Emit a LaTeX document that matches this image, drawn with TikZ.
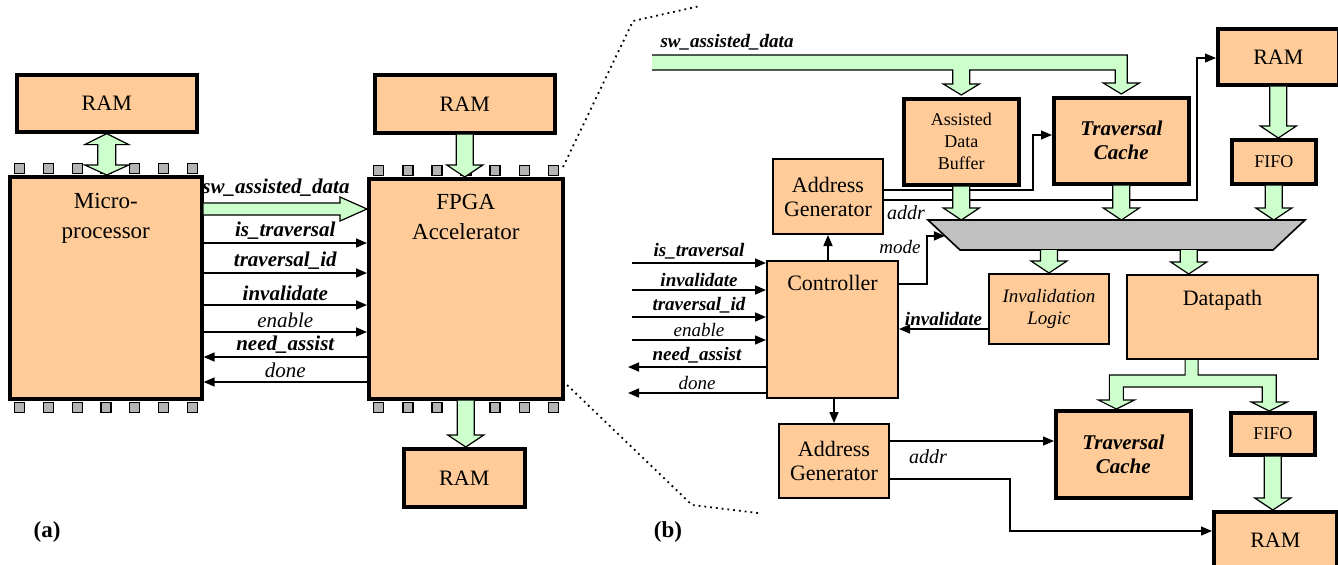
\documentclass[tikz,border=0pt]{standalone}
\usepackage{fontspec}
\setmainfont{Liberation Serif}
\usetikzlibrary{arrows.meta, calc, positioning}

\definecolor{peach}{HTML}{FFCC99}
\definecolor{mint}{HTML}{CCFFCC}
\definecolor{pingray}{HTML}{B4B4B4}
\definecolor{muxgray}{HTML}{C0C0C0}

% fat green arrow pointing down, from #1 to #2
\newcommand{\fatdown}[2]{%
  \draw[fat] let \p1=(#1), \p2=(#2) in
    (\x1-4.25pt,\y1) -- (\x1-4.25pt,\y2+6pt) -- (\x1-9pt,\y2+6pt) -- (\x1,\y2)
    -- (\x1+9pt,\y2+6pt) -- (\x1+4.25pt,\y2+6pt) -- (\x1+4.25pt,\y1);}

\begin{document}
\begin{tikzpicture}[
    x=0.5pt, y=-0.5pt,
    box/.style = {draw, fill=peach, line width=1pt, inner sep=1pt, align=center,
                  anchor=north west, font=\rmfamily\fontsize{11}{12}\selectfont},
    thickbox/.style = {box, line width=1.8pt},
    toptext/.style = {anchor=north, inner sep=0pt, align=center, font=\rmfamily\fontsize{11.5}{15}\selectfont},
    pin/.style = {draw, fill=pingray, line width=0.6pt, minimum size=5pt, inner sep=0pt},
    fat/.style = {draw, fill=mint, line width=0.6pt},
    sig/.style = {line width=0.8pt, -{Triangle[length=5.5pt, width=4.5pt]}},
    thin/.style = {line width=0.6pt, -{Triangle[length=5.5pt, width=4.5pt]}},
    lblA/.style = {font=\rmfamily\fontsize{10.5}{12}\selectfont\itshape, inner sep=1.5pt},
    lblB/.style = {font=\rmfamily\fontsize{9.5}{11}\selectfont\itshape, inner sep=1.5pt}
  ]
  \useasboundingbox (0,0) rectangle (1338,564);

  % ---------- (a) ----------
  \node[thickbox, minimum width=90pt, minimum height=28.5pt] (ramA) at (15,73) {RAM};
  \node[thickbox, minimum width=96pt, minimum height=111pt,
        label={[toptext, yshift=-9pt]north:Micro-\\processor}] (micro) at (8,175) {};
  \node[thickbox, minimum width=90pt, minimum height=29pt] (ramB) at (373,73) {RAM};
  \node[thickbox, minimum width=97pt, minimum height=110pt,
        label={[toptext, yshift=-8.5pt]north:FPGA\\Accelerator}] (fpga) at (367,177) {};
  \node[thickbox, minimum width=60.5pt, minimum height=29pt] (ramC) at (402,447) {RAM};

  % pins
  \foreach \b in {micro, fpga}
    \foreach \i in {0,...,6} {
      \node[pin, anchor=south, yshift=0.6pt] at ($(\b.north west)!{0.06+0.147*\i}!(\b.north east)$) {};
      \node[pin, anchor=north, yshift=-0.6pt] at ($(\b.south west)!{0.06+0.147*\i}!(\b.south east)$) {};
    }

  \draw[fat] let \p1=(ramA.south), \p2=(micro.north) in
    (\x1,\y1) -- (\x1+11pt,\y1-5.5pt) -- (\x1+4.5pt,\y1-5.5pt) -- (\x1+4.5pt,\y2+5pt)
    -- (\x1+11pt,\y2+5pt) -- (\x1,\y2) -- (\x1-11pt,\y2+5pt) -- (\x1-4.5pt,\y2+5pt)
    -- (\x1-4.5pt,\y1-5.5pt) -- (\x1-11pt,\y1-5.5pt) -- cycle;
  \fatdown{ramB.south}{fpga.north}
  \fatdown{fpga.south}{ramC.north}

  \draw[fat] let \p1=(micro.east |- 0,209), \p2=(fpga.west |- 0,209) in
    (\x1,\y1+3pt) -- (\x2-13.5pt,\y1+3pt) -- (\x2-13.5pt,\y1+6pt) -- (\x2,\y1)
    -- (\x2-13.5pt,\y1-6pt) -- (\x2-13.5pt,\y1-3pt) -- (\x1,\y1-3pt);
  \node[lblA, font=\rmfamily\fontsize{10.5}{12}\selectfont\bfseries\itshape] (swlbl) at (276,188) {sw\_assisted\_data};

  \foreach \yy/\txt in {243/{\bfseries is\_traversal}, 273/{\bfseries traversal\_id},
                        305/{\bfseries invalidate}, 332/enable}
    \draw[sig] (micro.east |- 0,\yy) -- (fpga.west |- 0,\yy) node[midway, above, lblA] {\txt};
  \foreach \yy/\txt in {357/{\bfseries need\_assist}, 382/done}
    \draw[sig] (fpga.west |- 0,\yy) -- (micro.east |- 0,\yy) node[midway, above, lblA] {\txt};

  % zoom lines
  \coordinate (zA) at (563,167);
  \coordinate (zB) at (563,381);
  \draw[dotted, line width=0.9pt] (zA) -- (633,21) -- (700,6);
  \draw[dotted, line width=0.9pt] (zB) -- (692,505) -- (758,513);

  \node[font=\rmfamily\fontsize{11.5}{13}\selectfont\bfseries] (capA) at (47,532) {(a)};
  \node[font=\rmfamily\fontsize{11.5}{13}\selectfont\bfseries] (capB) at (668,532) {(b)};

  % ---------- (b) ----------
  \node[thickbox, minimum width=57.5pt, minimum height=43pt, font=\rmfamily\fontsize{9}{11}\selectfont]
    (adb) at (902,97) {Assisted\\Data\\Buffer};
  \node[thickbox, minimum width=67.5pt, minimum height=43pt, font=\rmfamily\fontsize{10.5}{12}\selectfont\bfseries\itshape]
    (tc1) at (1052,96) {Traversal\\Cache};
  \node[thickbox, minimum width=60.5pt, minimum height=28pt] (ramD) at (1216,27) {RAM};
  \node[thickbox, minimum width=42pt, minimum height=22pt, font=\rmfamily\fontsize{9}{11}\selectfont]
    (fifo1) at (1230,138) {FIFO};
  \node[box, minimum width=55pt, minimum height=37.5pt] (ag1) at (772,158) {Address\\Generator};
  \node[box, minimum width=65.5pt, minimum height=68.5pt,
        label={[toptext, font=\rmfamily\fontsize{11}{12}\selectfont, yshift=-7.5pt]north:Controller}] (ctrl) at (766,260) {};
  \node[box, minimum width=60pt, minimum height=35pt, font=\rmfamily\fontsize{9.5}{11}\selectfont\itshape]
    (il) at (988,273) {Invalidation\\Logic};
  \node[box, minimum width=95.5pt, minimum height=42pt,
        label={[toptext, font=\rmfamily\fontsize{11}{12}\selectfont, yshift=-8pt]north:Datapath}] (dp) at (1126,274) {};
  \node[box, minimum width=55pt, minimum height=37pt] (ag2) at (778,423) {Address\\Generator};
  \node[thickbox, minimum width=67.5pt, minimum height=43.5pt, font=\rmfamily\fontsize{10.5}{12}\selectfont\bfseries\itshape]
    (tc2) at (1054,409) {Traversal\\Cache};
  \node[thickbox, minimum width=42pt, minimum height=21pt, font=\rmfamily\fontsize{9}{11}\selectfont]
    (fifo2) at (1229,411) {FIFO};
  \node[thickbox, minimum width=61.5pt, minimum height=28pt] (ramE) at (1212,510) {RAM};

  % multiplexer
  \coordinate (muxtl) at (928,220);
  \coordinate (muxtr) at (1305,220);
  \coordinate (muxbr) at (1273,250);
  \coordinate (muxbl) at (960,250);
  \coordinate (muxin) at ($(muxtl)!0.53!(muxbl)$);
  \draw[fill=muxgray, line width=0.8pt] (muxtl) -- (muxtr) -- (muxbr) -- (muxbl) -- cycle;

  % address lines
  \draw[thin] (ag1.east |- 0,190) -| (1033,135) -- (tc1.west |- 0,135);
  \draw[thin] (ag1.east |- 0,200) -| (1197,58) -- (ramD.west |- 0,58);
  \node[lblB, font=\rmfamily\fontsize{10}{11}\selectfont\itshape] (addr1) at (906,213) {addr};
  \draw[thin] (ag2.east |- 0,441) -- (tc2.west |- 0,441);
  \draw[thin] (ag2.east |- 0,479) -| (1010,531) -- (ramE.west |- 0,531);
  \node[lblB, font=\rmfamily\fontsize{10}{11}\selectfont\itshape] (addr2) at (928,457) {addr};

  % data bus
  \coordinate (busin) at (652,55);
  \draw[fat] let \p1=(busin), \p2=(adb.north), \p3=(tc1.north) in
    (\x1,\y1) -- (\x3+3pt,\y1) -- (\x3+3pt,\y3+6.5pt) -- (\x3+9pt,\y3+6.5pt) -- (\x3,\y3+1pt)
    -- (\x3-9pt,\y3+6.5pt) -- (\x3-3pt,\y3+6.5pt) -- (\x3-3pt,\y1-7.5pt)
    -- (\x2+4.25pt,\y1-7.5pt) -- (\x2+4.25pt,\y2+6.5pt) -- (\x2+9pt,\y2+6.5pt) -- (\x2,\y2+1pt)
    -- (\x2-9pt,\y2+6.5pt) -- (\x2-4.25pt,\y2+6.5pt) -- (\x2-4.25pt,\y1-7.5pt) -- (\x1,\y1-7.5pt);
  \node[lblB, font=\rmfamily\fontsize{9.5}{11}\selectfont\bfseries\itshape] (buslbl) at (727,42) {sw\_assisted\_data};

  \fatdown{ramD.south}{fifo1.north}
  \fatdown{adb.south}{adb.south |- muxtl}
  \fatdown{tc1.south}{tc1.south |- muxtl}
  \fatdown{fifo1.south}{fifo1.south |- muxtl}
  \fatdown{il.north |- muxbl}{il.north}
  \coordinate (dpin) at ($(dp.north west)!0.325!(dp.north east)$);
  \fatdown{dpin |- muxbl}{dpin}
  \fatdown{fifo2.south}{ramE.north}

  % datapath split
  \draw[fat] let \p1=($(dp.south west)!0.34!(dp.south east)$),
                 \p2=($(tc2.north west)!0.45!(tc2.north east)$),
                 \p3=($(fifo2.north west)!0.46!(fifo2.north east)$) in
    (\x1-3.25pt,\y1) -- (\x1-3.25pt,\y1-7.5pt) -- (\x2-3.5pt,\y1-7.5pt) -- (\x2-3.5pt,\y2+4.5pt)
    -- (\x2-9pt,\y2+4.5pt) -- (\x2,\y2) -- (\x2+9pt,\y2+4.5pt) -- (\x2+3.5pt,\y2+4.5pt)
    -- (\x2+3.5pt,\y1-13.5pt) -- (\x3-3.5pt,\y1-13.5pt) -- (\x3-3.5pt,\y3+4.5pt)
    -- (\x3-9pt,\y3+4.5pt) -- (\x3,\y3) -- (\x3+9pt,\y3+4.5pt) -- (\x3+3.5pt,\y3+4.5pt)
    -- (\x3+3.5pt,\y1-7.5pt) -- (\x1+3.25pt,\y1-7.5pt) -- (\x1+3.25pt,\y1);

  % controller connections
  \draw[sig] (ag1.south |- ctrl.north) -- (ag1.south);
  \draw[sig] (ag2.north |- ctrl.south) -- (ag2.north);
  \draw[sig] ($(ctrl.north east)+(0,24)$) -| ($(muxin)+(-18,0)$) -- (muxin);
  \node[lblB, font=\rmfamily\fontsize{9.5}{11}\selectfont\itshape] (modelbl) at (900,247) {mode};
  \draw[sig] (il.west |- 0,329) -- (ctrl.east |- 0,329)
    node[midway, above, lblB, font=\rmfamily\fontsize{9.5}{11}\selectfont\bfseries\itshape] {invalidate};

  \coordinate (ctlin) at (632,263);
  \foreach \yy/\txt in {263/{\bfseries is\_traversal}, 290/{\bfseries invalidate},
                        317/{\bfseries traversal\_id}, 340/enable}
    \draw[sig] (ctlin |- 0,\yy) -- (ctrl.west |- 0,\yy) node[midway, above, lblB] {\txt};
  \foreach \yy/\txt in {367/{\bfseries need\_assist}, 393/done}
    \draw[sig] (ctrl.west |- 0,\yy) -- ($(ctlin |- 0,\yy)+(-4,0)$) node[midway, above, lblB] {\txt};
\end{tikzpicture}
\end{document}
